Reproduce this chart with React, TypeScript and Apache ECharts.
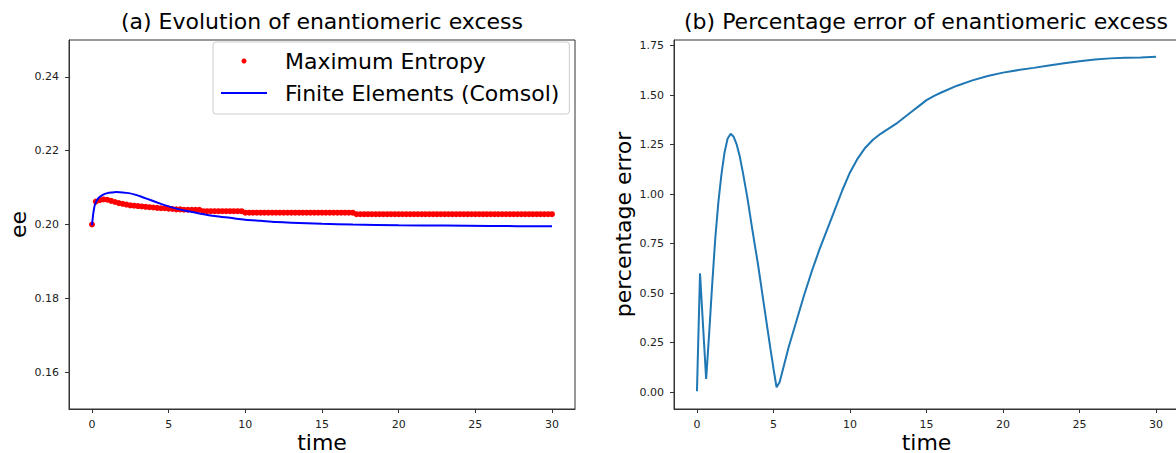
import { useEffect, useRef } from "react";
import * as echarts from "echarts";

// Maximum-entropy solution, sampled every TIME_STEP from t = 0 to t = 30
const TIME_STEP = 0.25;
const maxEntropyEe = [
  0.2, 0.2062, 0.2066, 0.2068, 0.2067, 0.2064, 0.2061, 0.2058, 0.2056, 0.2054, 0.2052, 0.2051,
  0.205, 0.2049, 0.2048, 0.2047, 0.2046, 0.2045, 0.2044, 0.2044, 0.2043, 0.2042, 0.2041, 0.2041,
  0.204, 0.204, 0.204, 0.204, 0.204,
  0.2036, 0.2036, 0.2036, 0.2036, 0.2036, 0.2036, 0.2036, 0.2036, 0.2036, 0.2036, 0.2036,
  0.2032, 0.2032, 0.2032, 0.2032, 0.2032, 0.2032, 0.2032, 0.2032, 0.2032, 0.2032,
  0.2032, 0.2032, 0.2032, 0.2032, 0.2032, 0.2032, 0.2032, 0.2032, 0.2032, 0.2032,
  0.2032, 0.2032, 0.2032, 0.2032, 0.2032, 0.2032, 0.2032, 0.2032, 0.2032,
  0.2028, 0.2028, 0.2028, 0.2028, 0.2028, 0.2028, 0.2028, 0.2028, 0.2028, 0.2028,
  0.2028, 0.2028, 0.2028, 0.2028, 0.2028, 0.2028, 0.2028, 0.2028, 0.2028, 0.2028,
  0.2028, 0.2028, 0.2028, 0.2028, 0.2028, 0.2028, 0.2028, 0.2028, 0.2028, 0.2028,
  0.2028, 0.2028, 0.2028, 0.2028, 0.2028, 0.2028, 0.2028, 0.2028, 0.2028, 0.2028,
  0.2028, 0.2028, 0.2028, 0.2028, 0.2028, 0.2028, 0.2028, 0.2028, 0.2028, 0.2028,
  0.2028, 0.2028,
];

// Finite-element (Comsol) reference solution
const comsolTime = [
  0, 0.1, 0.2, 0.4, 0.7, 1.0, 1.3, 1.6, 2.0, 2.4, 2.8, 3.3, 3.9, 4.5, 5.0, 5.5, 6.1, 7.0, 8.0,
  9.0, 10, 11, 12, 13, 15, 17, 20, 23, 26, 30,
];
const comsolEe = [
  0.1998, 0.2035, 0.2055, 0.2071, 0.208, 0.2085, 0.2087, 0.2088, 0.2087, 0.2085, 0.2081, 0.2074,
  0.2065, 0.2056, 0.2049, 0.2043, 0.2037, 0.203, 0.2023, 0.2018, 0.2013, 0.201, 0.2007, 0.2005,
  0.2002, 0.2, 0.1998, 0.1997, 0.1996, 0.1995,
];

// Percentage error between the two solutions
const errorTime = [
  0, 0.2, 0.6, 0.8, 1.0, 1.2, 1.4, 1.6, 1.8, 2.0, 2.2, 2.4, 2.6, 2.8, 3.0, 3.3, 3.6, 4.0, 4.4,
  4.8, 5.0, 5.2, 5.4, 5.7, 6.0, 6.5, 7.0, 7.5, 8.0, 8.5, 9.0, 9.5, 10.0, 10.5, 11.0, 11.5, 12.0,
  12.5, 13.0, 13.5, 14.0, 14.5, 15.0, 15.5, 16.0, 17.0, 18.0, 19.0, 20.0, 21.0, 22.0, 23.0,
  24.0, 25.0, 26.0, 27.0, 28.0, 29.0, 30.0,
];
const errorPct = [
  0.005, 0.6, 0.067, 0.3, 0.55, 0.78, 0.96, 1.1, 1.21, 1.28, 1.305, 1.29, 1.25, 1.19, 1.11,
  0.98, 0.83, 0.64, 0.43, 0.22, 0.12, 0.025, 0.05, 0.14, 0.23, 0.36, 0.49, 0.61, 0.72, 0.82,
  0.92, 1.02, 1.11, 1.18, 1.235, 1.275, 1.305, 1.33, 1.355, 1.385, 1.415, 1.445, 1.475, 1.497,
  1.515, 1.548, 1.575, 1.597, 1.614, 1.627, 1.638, 1.65, 1.661, 1.671, 1.68, 1.686, 1.689,
  1.691, 1.694,
];

const timeTicks = [0, 5, 10, 15, 20, 25, 30];
const eeTicks = [0.16, 0.18, 0.2, 0.22, 0.24];
const errorTicks = [0, 0.25, 0.5, 0.75, 1.0, 1.25, 1.5, 1.75];

const FONT = "DejaVu Sans";
const FRAME = "#333333";

function timeAxis(gridIndex: number) {
  return {
    type: "value" as const,
    gridIndex,
    min: -1.5,
    max: 31.5,
    name: "time",
    nameLocation: "middle" as const,
    nameGap: 22,
    nameMoveOverlap: false,
    nameTextStyle: { fontFamily: FONT, fontSize: 22, lineHeight: 22, color: "#000" },
    axisLine: { show: true, onZero: false, lineStyle: { color: FRAME, width: 1 } },
    axisTick: { show: true, length: 4, customValues: timeTicks, lineStyle: { color: FRAME } },
    axisLabel: {
      customValues: timeTicks,
      margin: 10,
      fontFamily: FONT,
      fontSize: 11,
      color: "#222",
      formatter: (v: number) => String(v),
    },
    splitLine: { show: false },
  };
}

function valueAxis(gridIndex: number, name: string, min: number, max: number, ticks: number[]) {
  return {
    type: "value" as const,
    gridIndex,
    min,
    max,
    name,
    nameLocation: "middle" as const,
    nameGap: 40,
    nameTextStyle: { fontFamily: FONT, fontSize: 22, color: "#000" },
    axisLine: { show: true, onZero: false, lineStyle: { color: FRAME, width: 1 } },
    axisTick: { show: true, length: 4, customValues: ticks, lineStyle: { color: FRAME } },
    axisLabel: {
      customValues: ticks,
      margin: 10,
      fontFamily: FONT,
      fontSize: 11,
      color: "#222",
      formatter: (v: number) => v.toFixed(2),
    },
    splitLine: { show: false },
  };
}

export default function App() {
  const ref = useRef<HTMLDivElement>(null);

  useEffect(() => {
    if (!ref.current) return;
    const chart = echarts.init(ref.current, undefined, { renderer: "svg" });
    chart.setOption({
      animation: false,
      backgroundColor: "#ffffff",
      title: [
        {
          text: "(a) Evolution of enantiomeric excess",
          left: 322,
          top: 10,
          padding: 0,
          textAlign: "center",
          textStyle: { fontFamily: FONT, fontSize: 22, fontWeight: "normal", color: "#000" },
        },
        {
          text: "(b) Percentage error of enantiomeric excess",
          left: 926,
          top: 10,
          padding: 0,
          textAlign: "center",
          textStyle: { fontFamily: FONT, fontSize: 22, fontWeight: "normal", color: "#000" },
        },
      ],
      legend: {
        orient: "vertical",
        left: 213,
        top: 42,
        padding: [8, 10, 10, 7],
        itemWidth: 46,
        itemHeight: 5,
        itemGap: 10,
        backgroundColor: "rgba(255,255,255,0.8)",
        borderColor: "#cccccc",
        borderWidth: 1,
        borderRadius: 3,
        textStyle: { fontFamily: FONT, fontSize: 22, color: "#000", padding: [0, 0, 0, 13] },
        data: [
          { name: "Maximum Entropy", icon: "circle", itemStyle: { color: "#ff0000", opacity: 1 } },
          { name: "Finite Elements (Comsol)", itemStyle: { opacity: 0 } },
        ],
      },
      grid: [
        {
          left: 69, right: 601, top: 40, bottom: 44,
          outerBoundsMode: "none",
          show: true, borderColor: FRAME, borderWidth: 1,
        },
        {
          left: 674, right: -3, top: 40, bottom: 44,
          outerBoundsMode: "none",
          show: true, borderColor: FRAME, borderWidth: 1,
        },
      ],
      xAxis: [timeAxis(0), timeAxis(1)],
      yAxis: [
        valueAxis(0, "ee", 0.15, 0.25, eeTicks),
        valueAxis(1, "percentage error", -0.0847, 1.7788, errorTicks),
      ],
      series: [
        {
          name: "Maximum Entropy",
          type: "scatter",
          xAxisIndex: 0,
          yAxisIndex: 0,
          symbol: "circle",
          symbolSize: 6,
          itemStyle: { color: "#ff0000", opacity: 1 },
          data: maxEntropyEe.map((v, i) => [i * TIME_STEP, v]),
        },
        {
          name: "Finite Elements (Comsol)",
          type: "line",
          xAxisIndex: 0,
          yAxisIndex: 0,
          showSymbol: false,
          symbol: "none",
          smooth: 0.3,
          lineStyle: { color: "#0000ff", width: 2 },
          itemStyle: { color: "#0000ff" },
          data: comsolTime.map((t, i) => [t, comsolEe[i]]),
        },
        {
          name: "percentage error",
          type: "line",
          xAxisIndex: 1,
          yAxisIndex: 1,
          showSymbol: false,
          symbol: "none",
          lineStyle: { color: "#1f77b4", width: 2 },
          itemStyle: { color: "#1f77b4" },
          data: errorTime.map((t, i) => [t, errorPct[i]]),
        },
      ],
    });
    return () => chart.dispose();
  }, []);

  return (
    <div
      ref={ref}
      style={{ position: "fixed", left: 0, top: 0, width: 1176, height: 453, background: "#fff" }}
    />
  );
}
